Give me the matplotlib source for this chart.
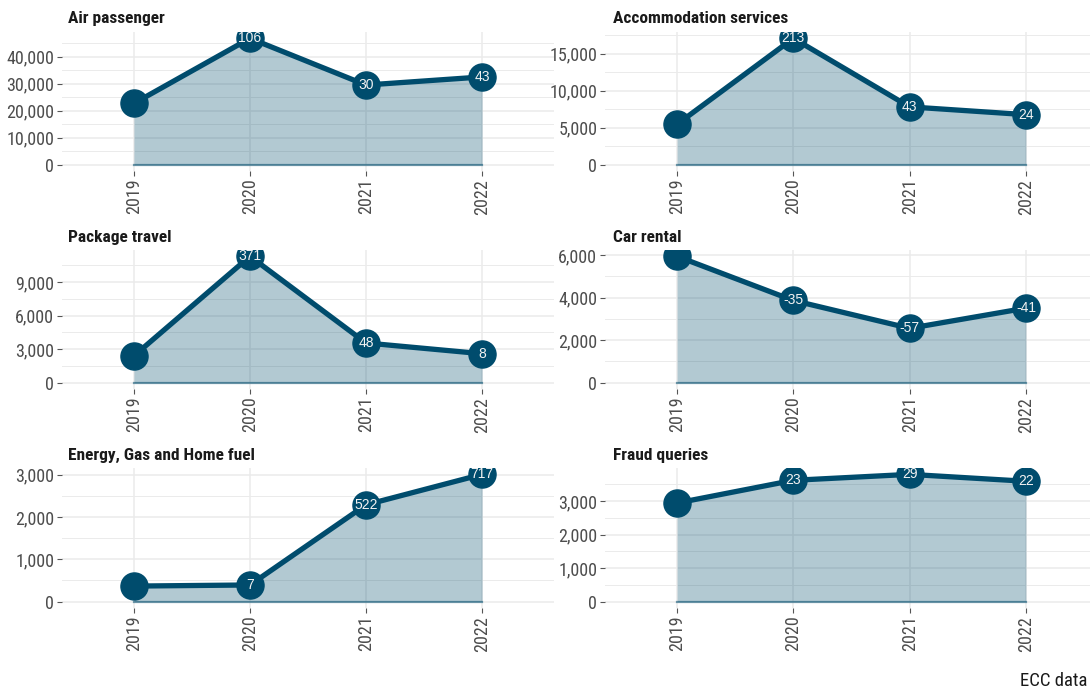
import matplotlib
matplotlib.use("Agg")
import matplotlib.pyplot as plt
import numpy as np
from matplotlib.ticker import FuncFormatter, MultipleLocator

# ---------------- data ----------------
years = ["2019", "2020", "2021", "2022"]
titles = ["Air passenger", "Accommodation services", "Package travel",
          "Car rental", "Energy, Gas and Home fuel", "Fraud queries"]
air_passenger = [22700, 46800, 29500, 32500]
accommodation = [5450, 17050, 7800, 6750]
package_travel = [2400, 11300, 3550, 2590]
car_rental = [5950, 3870, 2560, 3510]
energy = [368, 394, 2290, 3010]
fraud = [2940, 3616, 3793, 3587]
air_labels = ["", "106", "30", "43"]
accom_labels = ["", "213", "43", "24"]
package_labels = ["", "371", "48", "8"]
car_labels = ["", "-35", "-57", "-41"]
energy_labels = ["", "7", "522", "717"]
fraud_labels = ["", "23", "29", "22"]
y_steps = [10000, 5000, 3000, 2000, 1000, 1000]
caption = "ECC data"

series = [air_passenger, accommodation, package_travel, car_rental, energy, fraud]
labels = [air_labels, accom_labels, package_labels, car_labels, energy_labels, fraud_labels]

# ---------------- style ----------------
W, H = 1090, 690
DARK = "#004c6d"
GRID = "#ebebeb"
TXT = "#4d4d4d"
FONT = ["Roboto Condensed", "Roboto", "DejaVu Sans"]
plt.rcParams["font.family"] = FONT

fig = plt.figure(figsize=(W / 100, H / 100), dpi=100)
fig.patch.set_facecolor("white")

cols = [(62, 554), (605, 1098)]
rows = [(32, 171), (250, 389), (468, 608)]
title_base = [23, 242, 460]
title_x = [68, 613]

x = np.arange(len(years))
for i, (vals, lbls, step, title) in enumerate(zip(series, labels, y_steps, titles)):
    r, c = divmod(i, 2)
    x0, x1 = cols[c]
    y0, y1 = rows[r]
    ax = fig.add_axes([x0 / W, 1 - y1 / H, (x1 - x0) / W, (y1 - y0) / H])
    ax.set_facecolor("white")
    vmax = max(vals)
    ax.set_xlim(-0.62, len(years) - 1 + 0.62)
    ax.set_ylim(-0.05 * vmax, 1.05 * vmax)

    ax.fill_between(x, 0, vals, color=DARK, alpha=0.3, linewidth=0, zorder=2)
    ax.plot([x[0], x[-1]], [0, 0], color=DARK, alpha=0.55, lw=1.6, zorder=2.5)
    ax.plot(x, vals, color=DARK, lw=3.8, zorder=3, solid_capstyle="round")
    ax.plot(x, vals, "o", color=DARK, markersize=19.5, zorder=4)
    for xi, v, t in zip(x, vals, lbls):
        if t:
            ax.text(xi, v, t, ha="center", va="center", color="#f2f2f2",
                    fontsize=10, family=["Liberation Sans", "DejaVu Sans"], zorder=5)

    ax.yaxis.set_major_locator(MultipleLocator(step))
    ax.yaxis.set_minor_locator(MultipleLocator(step / 2))
    ax.yaxis.set_major_formatter(FuncFormatter(lambda v, p: f"{int(round(v)):,}"))
    ax.set_xticks(x)
    ax.set_xticklabels(years, rotation=90)
    ax.grid(which="major", color=GRID, lw=1.1, zorder=0)
    ax.grid(which="minor", axis="y", color=GRID, lw=0.7, zorder=0)
    ax.set_axisbelow(True)
    for s in ax.spines.values():
        s.set_visible(False)
    ax.tick_params(axis="both", which="major", length=3.5, width=0.8, color="#555555",
                   labelcolor=TXT, labelsize=13, pad=2)
    ax.tick_params(axis="y", which="minor", length=0)

    fig.text(title_x[c] / W, 1 - title_base[r] / H, title, ha="left", va="baseline",
             fontsize=12.5, fontweight="bold", color="#1a1a1a")

fig.text(1087 / W, 1 - 686 / H, caption, ha="right", va="baseline", fontsize=13.5, color="#1a1a1a")

fig.savefig("out.png", dpi=100, facecolor="white")
